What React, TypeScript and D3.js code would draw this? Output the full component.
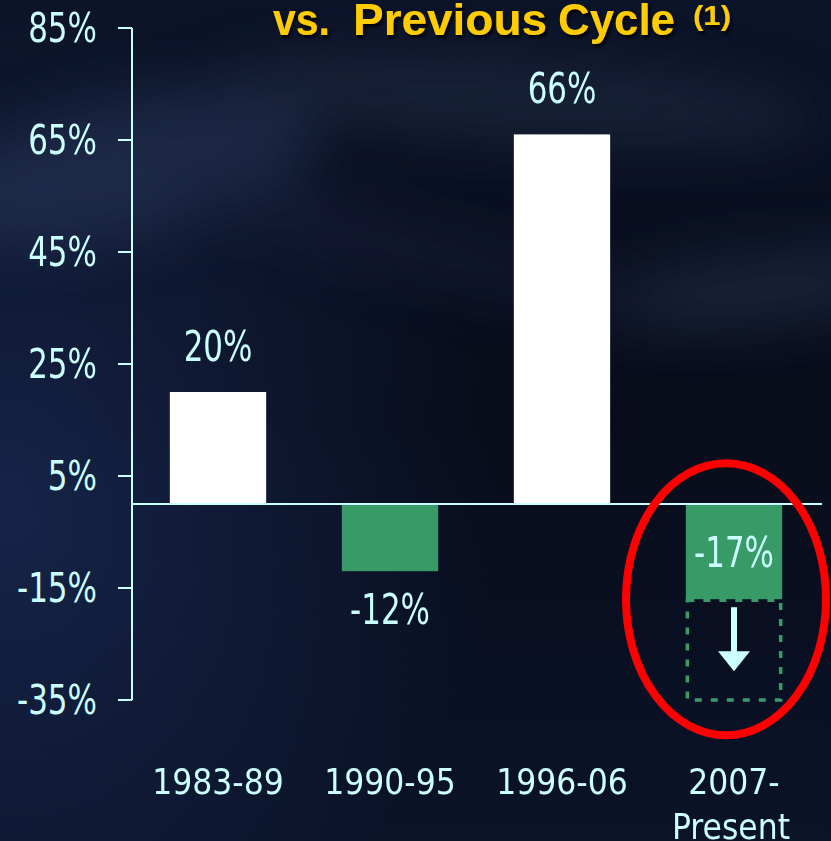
import React from "react";
import * as d3 from "d3";

// chart values
const categories = ["1983-89", "1990-95", "1996-06", "2007-|Present"];
const values = [20, -12, 66, -17];
const yTicks = [-35, -15, 5, 25, 45, 65, 85];
const projectedLow = -35; // dashed "further downside" box under the last bar

const W = 831;
const H = 841;
const LABEL = "#ccffff";
const GREEN = "#389b67";
const FONT = "'DejaVu Sans Condensed', 'DejaVu Sans', sans-serif";

export default function App() {
  const y = d3.scaleLinear().domain([-35, 85]).range([700, 28]);
  const x = d3
    .scaleBand<string>()
    .domain(categories)
    .range([132, 820])
    .paddingInner(0.44)
    .paddingOuter(0.22);
  const bw = x.bandwidth();
  const y0 = y(0);

  const last = categories[categories.length - 1];
  const lx = (x(last) as number) + bw / 2;
  const lastY = y(values[values.length - 1]);

  return (
    <svg
      width={W}
      height={H}
      style={{ display: "block", position: "absolute", left: 0, top: 0 }}
    >
      <defs>
        <linearGradient id="bg" x1="0" y1="0" x2="0" y2="1">
          <stop offset="0" stopColor="#0c1429" />
          <stop offset="0.5" stopColor="#080c1a" />
          <stop offset="1" stopColor="#0b1329" />
        </linearGradient>
        <radialGradient id="leftGlow" cx="0" cy="0.6" r="0.6">
          <stop offset="0" stopColor="#1b2e5c" stopOpacity="0.7" />
          <stop offset="1" stopColor="#1b2e5c" stopOpacity="0" />
        </radialGradient>
        <filter id="blur" x="-50%" y="-50%" width="200%" height="200%">
          <feGaussianBlur stdDeviation="28" />
        </filter>
        <filter id="shadow" x="-10%" y="-20%" width="120%" height="160%">
          <feDropShadow dx="2" dy="3" stdDeviation="1.5" floodColor="#000" floodOpacity="0.9" />
        </filter>
      </defs>

      {/* background */}
      <rect width={W} height={H} fill="url(#bg)" />
      <rect width={W} height={H} fill="url(#leftGlow)" />
      <g filter="url(#blur)" opacity={0.5}>
        <ellipse cx={120} cy={170} rx={200} ry={70} fill="#2a3a5e" transform="rotate(-12 120 170)" />
        <ellipse cx={520} cy={100} rx={300} ry={40} fill="#25304c" transform="rotate(4 520 100)" />
        <ellipse cx={760} cy={290} rx={170} ry={35} fill="#2c3852" transform="rotate(-6 760 290)" />
        <ellipse cx={420} cy={250} rx={240} ry={26} fill="#1a2440" transform="rotate(14 420 250)" />
      </g>

      {/* title (second line only is in frame) */}
      <g filter="url(#shadow)" fontFamily="'Liberation Sans', Arial, sans-serif" fontWeight="bold" fill="#ffcc00" fontSize={44}>
        <text x={273} y={35} textLength={57} lengthAdjust="spacingAndGlyphs">vs.</text>
        <text x={353} y={35} textLength={194} lengthAdjust="spacingAndGlyphs">Previous</text>
        <text x={558} y={35} textLength={117} lengthAdjust="spacingAndGlyphs">Cycle</text>
        <text x={693} y={25} fontSize={27} textLength={38} lengthAdjust="spacingAndGlyphs">(1)</text>
      </g>

      {/* bars */}
      {values.map((v, i) => (
        <rect
          key={categories[i]}
          x={x(categories[i])}
          y={v >= 0 ? y(v) : y0}
          width={bw}
          height={Math.abs(y(v) - y0)}
          fill={v >= 0 ? "#ffffff" : GREEN}
        />
      ))}

      {/* projected downside box */}
      <rect
        x={(x(last) as number) + 1.5}
        y={lastY + 1}
        width={bw - 3}
        height={y(projectedLow) - lastY - 1}
        fill="none"
        stroke={GREEN}
        strokeWidth={3.5}
        strokeDasharray="7 9"
      />
      <rect x={lx - 3} y={lastY + 8} width={6} height={46} fill={LABEL} />
      <path
        d={`M${lx - 16},${lastY + 52} L${lx + 16},${lastY + 52} L${lx},${lastY + 72} Z`}
        fill={LABEL}
      />

      {/* axes */}
      <line x1={132} x2={132} y1={y(85)} y2={y(-35)} stroke={LABEL} strokeWidth={2} />
      <line x1={132} x2={822} y1={y0} y2={y0} stroke={LABEL} strokeWidth={2} />
      {yTicks.map((t) => (
        <g key={t}>
          <line x1={118} x2={132} y1={y(t)} y2={y(t)} stroke={LABEL} strokeWidth={2} />
          <text
            transform={`translate(97,${y(t) + 14}) scale(0.84,1)`}
            textAnchor="end"
            fontFamily={FONT}
            fontSize={41}
            fill={LABEL}
          >
            {`${t}%`}
          </text>
        </g>
      ))}

      {/* value labels */}
      {values.map((v, i) => {
        const cx = (x(categories[i]) as number) + bw / 2;
        let by: number;
        if (v >= 0) by = y(v) - 31;
        else if (i === values.length - 1) by = y0 + 63;
        else by = y(v) + 53;
        return (
          <text
            key={categories[i]}
            transform={`translate(${cx},${by}) scale(0.8,1)`}
            textAnchor="middle"
            fontFamily={FONT}
            fontSize={43}
            fill={LABEL}
          >
            {`${v}%`}
          </text>
        );
      })}

      {/* category labels */}
      {categories.map((c) => {
        const cx = (x(c) as number) + bw / 2;
        const lines = c.split("|");
        return (
          <text key={c} textAnchor="middle" fontFamily={FONT} fontSize={35} fill={LABEL}>
            {lines.map((ln, j) => (
              <tspan key={ln} x={cx - (lines.length > 1 && j === 1 ? 3 : 0)} y={794 + j * 45}>
                {ln}
              </tspan>
            ))}
          </text>
        );
      })}

      {/* highlight ring */}
      <ellipse
        cx={lx - 8}
        cy={lastY}
        rx={100}
        ry={136}
        fill="none"
        stroke="#ff0000"
        strokeWidth={8}
      />
    </svg>
  );
}
